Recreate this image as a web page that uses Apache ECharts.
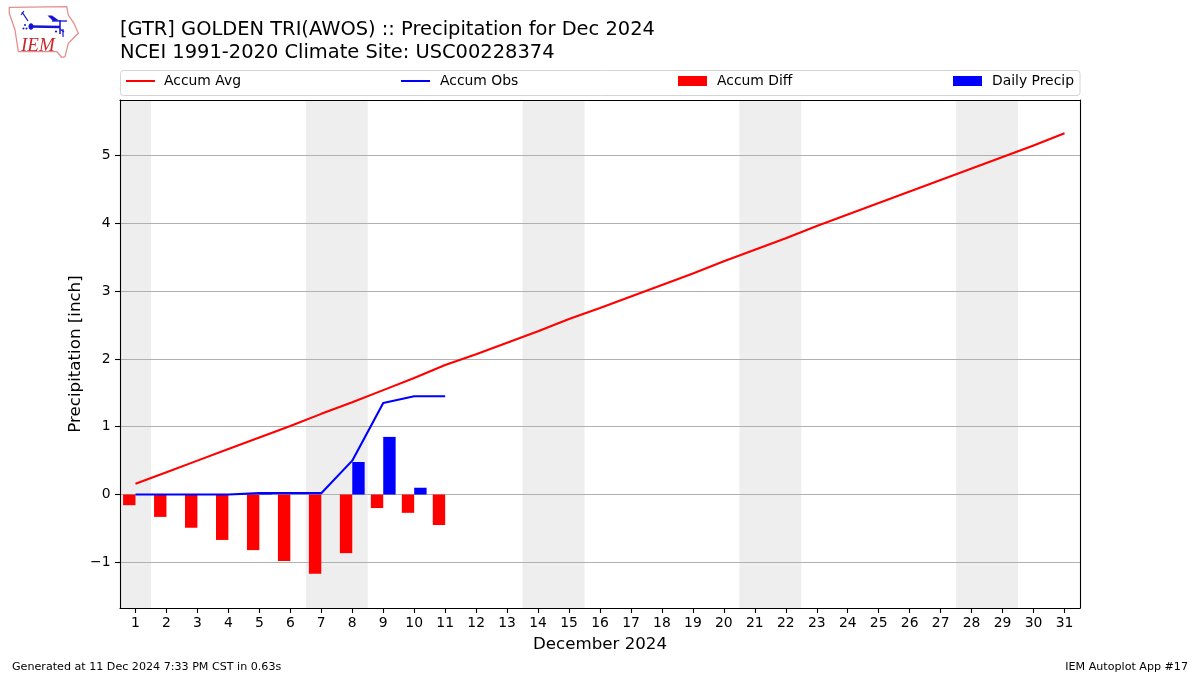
<!DOCTYPE html>
<html>
<head>
<meta charset="utf-8">
<title>Precipitation for Dec 2024</title>
<script src="https://cdn.jsdelivr.net/npm/echarts@6/dist/echarts.min.js"></script>
<style>html,body{margin:0;padding:0;background:#fff}#chart{width:1200px;height:675px}</style>
</head>
<body>
<div id="chart"></div>
<script>
const days = ['1','2','3','4','5','6','7','8','9','10','11','12','13','14','15','16','17','18','19','20','21','22','23','24','25','26','27','28','29','30','31'];
const accumAvg = [0.16,0.33,0.50,0.67,0.84,1.01,1.19,1.36,1.54,1.72,1.91,2.07,2.24,2.41,2.59,2.75,2.92,3.09,3.26,3.44,3.61,3.78,3.96,4.13,4.30,4.47,4.64,4.81,4.98,5.15,5.33];
const accumObs = [0.00,0.00,0.00,0.00,0.02,0.02,0.02,0.50,1.35,1.45,1.45];
const accumDiff = [-0.157,-0.33,-0.49,-0.67,-0.82,-0.98,-1.17,-0.865,-0.20,-0.27,-0.45];
const dailyPrecip = [0,0,0,0,0.02,0,0,0.48,0.85,0.10,0];
const weekendStarts = [0.5,6.5,13.5,20.5,27.5];
const weekendEnds = [1.5,8.5,15.5,22.5,29.5];
const yTicks = [-1,0,1,2,3,4,5];
const titleLines = ['[GTR] GOLDEN TRI(AWOS) :: Precipitation for Dec 2024','NCEI 1991-2020 Climate Site: USC00228374'];

const font = 'DejaVu Sans';
const chart = echarts.init(document.getElementById('chart'), null, {renderer:'canvas'});

function legendAt(name, left, h, color, textPad){
  return {
    data:[{name:name,icon:'rect',itemStyle:{color:color}}], left:left, top:81-Math.max(h,14)/2, padding:0, itemWidth:29, itemHeight:h,
    textStyle:{fontFamily:font,fontSize:13.9,color:'#000',padding:[0,0,0,textPad]},
    selectedMode:false
  };
}
const blue='#1414d8', red='#e58f8f';
function seg(x1,y1,x2,y2,w){return {type:'line',shape:{x1,y1,x2,y2},style:{stroke:blue,lineWidth:w||1.5},silent:true};}
const spine={show:true,onZero:false,lineStyle:{color:'#000',width:1.1}};

chart.setOption({
  animation:false,
  backgroundColor:'#fff',
  title:[
    {text:titleLines.join('\n'),left:120,top:19,padding:0,textStyle:{fontFamily:font,fontSize:19.44,fontWeight:'normal',color:'#000',lineHeight:22.5}},
    {text:'Generated at 11 Dec 2024 7:33 PM CST in 0.63s',left:12,top:662,padding:0,textStyle:{fontFamily:font,fontSize:11.12,fontWeight:'normal',color:'#000'}},
    {text:'IEM Autoplot App #17',right:12,top:662,padding:0,textStyle:{fontFamily:font,fontSize:11.12,fontWeight:'normal',color:'#000'}}
  ],
  legend:[
    legendAt('Accum Avg',126,2,'#ff0000',4),
    legendAt('Accum Obs',401,2,'#0000ff',5),
    legendAt('Accum Diff',678,10,'#ff0000',5),
    legendAt('Daily Precip',953,10,'#0000ff',5)
  ],
  graphic:[
    {type:'rect',shape:{x:120.5,y:70.5,width:959.5,height:25,r:3},style:{fill:'#fff',stroke:'#d4d4d4',lineWidth:1},silent:true,z:0},
    {type:'polygon',shape:{points:[[9.3,7.3],[66.7,6.7],[68.3,15],[74,23.3],[78.3,33.3],[68.3,43.3],[65,56.7],[61.7,57.3],[56.7,51.7],[18.3,51.7],[15,30],[9.3,13.3]]},style:{fill:'#fff',stroke:red,lineWidth:1.3},silent:true},
    seg(31,26.5,60,27,2.4),
    {type:'ellipse',shape:{cx:31,cy:26.5,rx:2.5,ry:3.3},style:{fill:blue},silent:true},
    {type:'polygon',shape:{points:[[47.5,15.5],[52,15.5],[59,20.5],[53,21]]},style:{fill:blue},silent:true},
    seg(52,21,67,21,1.3),
    seg(60,20,60,34,1.5),
    seg(60,29,64,32,1.2),
    seg(63,29,63,37,1.2),
    seg(22,12,28,21,1.3),
    seg(21,15,24,11,1.1),
    {type:'circle',shape:{cx:25,cy:25,r:1},style:{fill:blue},silent:true},
    {type:'circle',shape:{cx:23.5,cy:28.5,r:1},style:{fill:blue},silent:true},
    {type:'circle',shape:{cx:26.5,cy:28.5,r:1},style:{fill:blue},silent:true},
    {type:'circle',shape:{cx:56,cy:31.5,r:1.1},style:{fill:blue},silent:true},
    {type:'text',style:{text:'IEM',x:21,y:36,font:'italic 19px "Liberation Serif"',fill:'#c8282d'},silent:true}
  ],
  grid:{left:120,top:100,width:960,height:508,show:false},
  xAxis:[
    {type:'category',data:days,boundaryGap:true,z:1,
     name:'December 2024',nameLocation:'middle',nameGap:28,
     nameTextStyle:{fontFamily:font,fontSize:16.67,color:'#000'},
     axisLine:spine,
     axisTick:{show:true,alignWithLabel:true,length:5,lineStyle:{color:'#000',width:1.1}},
     axisLabel:{fontFamily:font,fontSize:13.9,color:'#000',margin:8,interval:0},
     splitLine:{show:false}},
    {type:'value',min:0.5,max:31.5,position:'top',z:1,axisLine:spine,axisTick:{show:false},axisLabel:{show:false},splitLine:{show:false}}
  ],
  yAxis:[
    {type:'value',min:-1.674,max:5.82,z:1,
     name:'Precipitation [inch]',nameLocation:'middle',nameGap:36,nameMoveOverlap:false,
     nameTextStyle:{fontFamily:font,fontSize:16.67,color:'#000'},
     axisLine:spine,
     axisTick:{show:true,length:5,lineStyle:{color:'#000',width:1.1},customValues:yTicks},
     axisLabel:{fontFamily:font,fontSize:13.9,color:'#000',margin:9.5,padding:[3,0,0,0],customValues:yTicks,
       formatter:v=>String(v).replace('-','\u2212')},
     splitLine:{show:true,lineStyle:{color:'#b0b0b0',width:1.1}}},
    {type:'value',min:-1.674,max:5.82,position:'right',z:1,axisLine:spine,axisTick:{show:false},axisLabel:{show:false},splitLine:{show:false}}
  ],
  series:[
    {name:'Weekend',type:'line',xAxisIndex:1,yAxisIndex:0,data:[],silent:true,z:0,
     markArea:{silent:true,z:0,itemStyle:{color:'#eeeeee'},
       data:weekendStarts.map((s,i)=>[{xAxis:s},{xAxis:weekendEnds[i]}])}},
    {name:'Accum Avg',type:'line',data:accumAvg,symbol:'none',z:4,lineStyle:{color:'#ff0000',width:2.1},itemStyle:{color:'#ff0000'}},
    {name:'Accum Obs',type:'line',data:accumObs,symbol:'none',z:4,lineStyle:{color:'#0000ff',width:2.1},itemStyle:{color:'#0000ff'}},
    {name:'Accum Diff',type:'bar',data:accumDiff,barWidth:12.4,barGap:0,z:3,itemStyle:{color:'#ff0000'}},
    {name:'Daily Precip',type:'bar',data:dailyPrecip,barWidth:12.4,barGap:0,z:3,itemStyle:{color:'#0000ff'}}
  ]
});
</script>
</body>
</html>
